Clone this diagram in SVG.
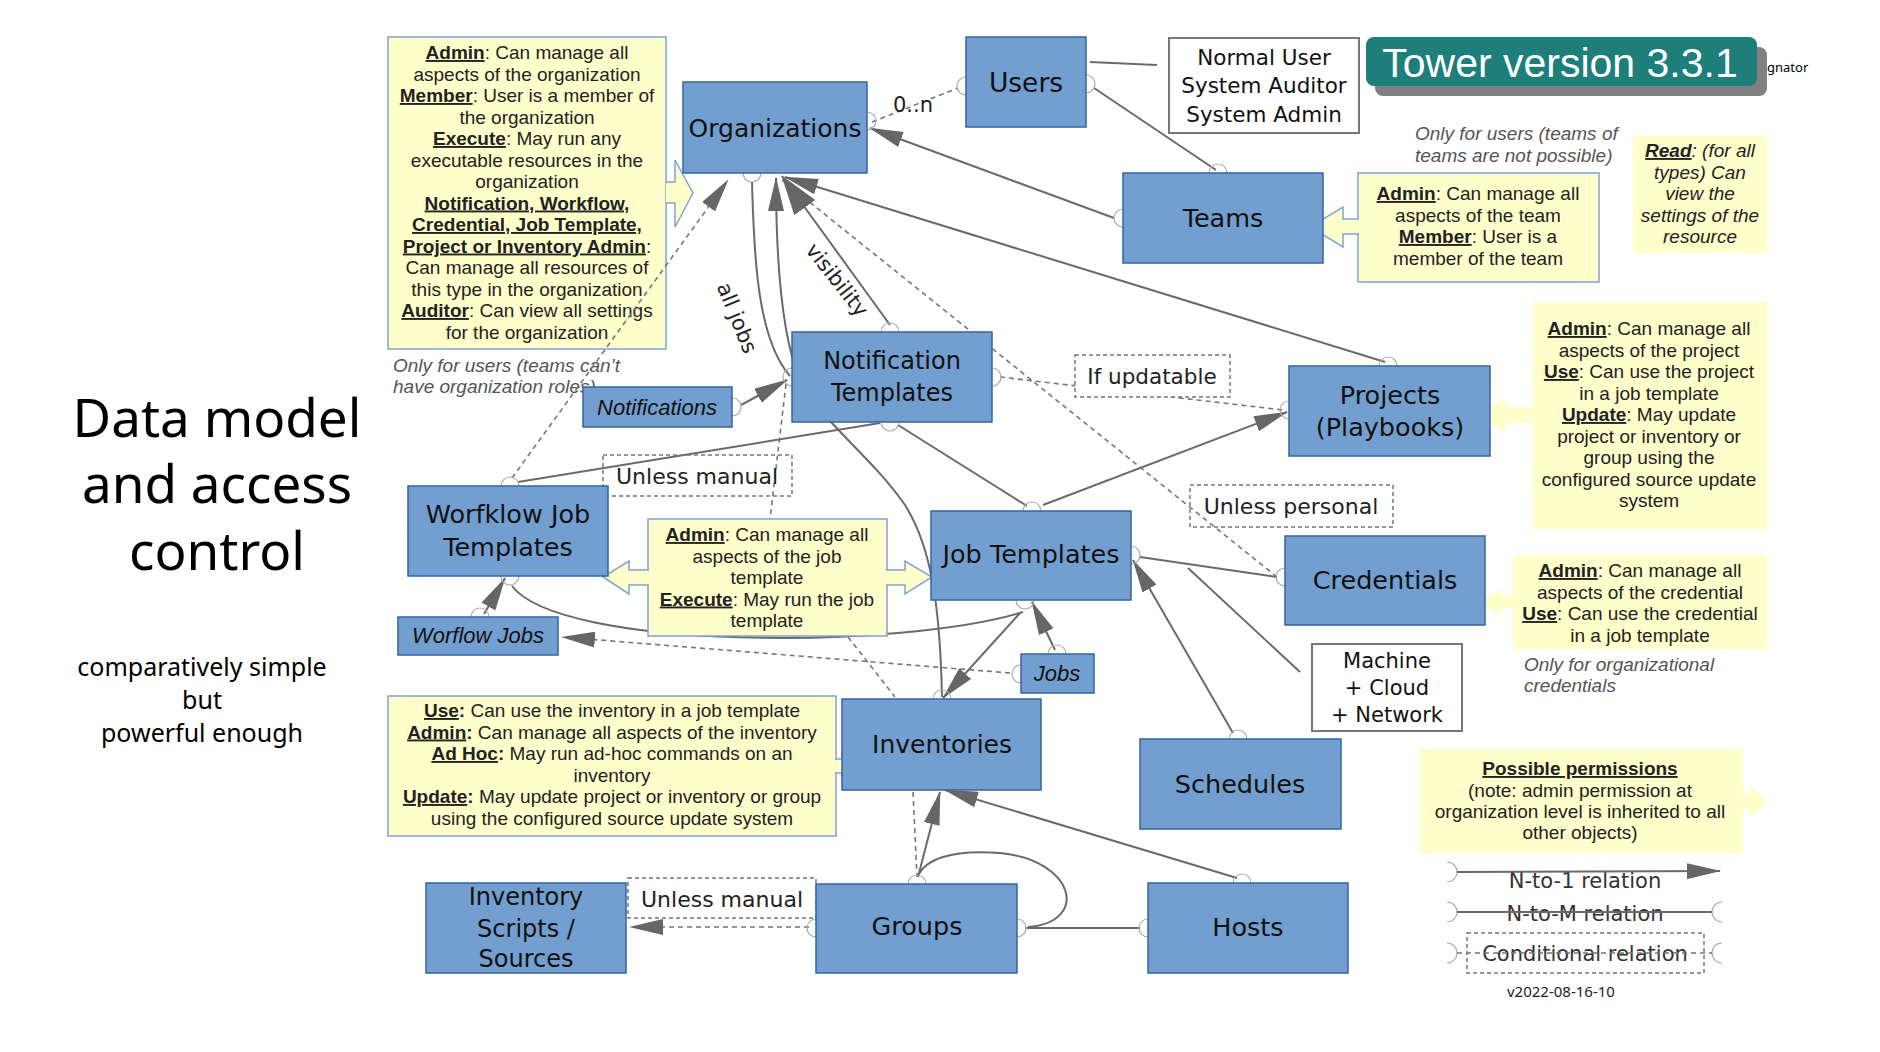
<svg xmlns="http://www.w3.org/2000/svg" width="1880" height="1052" viewBox="0 0 1880 1052">
<defs>
<style>
.nd {fill:#729fcf; stroke:#3465a4; stroke-width:1.5}
.wb {fill:#fff; stroke:#777; stroke-width:2}
.nt {font-family:"DejaVu Sans",Verdana,sans-serif; font-size:25.5px; fill:#111; text-anchor:middle}
.it {font-family:"Liberation Sans",Arial,sans-serif; font-style:italic; font-size:22px; fill:#111; text-anchor:middle}
.note {fill:#ffffcc; stroke:#7fa3d6; stroke-width:1.5}
.note2 {fill:#ffffcc; stroke:none}
.tx {font-family:"Liberation Sans",Arial,sans-serif; font-size:19px; fill:#222; text-anchor:middle}
.b {font-weight:bold; text-decoration:underline}
.bo {font-weight:bold}
.gr {font-family:"Liberation Sans",Arial,sans-serif; font-style:italic; font-size:19px; fill:#555}
.ln {stroke:#6a6a6a; stroke-width:2; fill:none}
.dl {stroke:#777; stroke-width:1.6; fill:none; stroke-dasharray:5 4}
.arc {stroke:#aaa; stroke-width:1.2; fill:none}
.lbl {font-family:"DejaVu Sans",Verdana,sans-serif; font-size:22px; fill:#222; text-anchor:middle}
.lbox {fill:none; stroke:#777; stroke-width:1.5; stroke-dasharray:4 3}
.lboxw {fill:#fff; stroke:#777; stroke-width:1.5; stroke-dasharray:4 3}
.side {font-family:"Noto Sans","DejaVu Sans",sans-serif; fill:#000; text-anchor:middle}
.big {font-size:53px}
.sub {font-size:25px}
</style>
<marker id="ah" markerUnits="userSpaceOnUse" markerWidth="34" markerHeight="16" refX="33" refY="8" orient="auto"><path d="M0,0 L34,8 L0,16 z" fill="#666"/></marker>
<marker id="ahb" markerUnits="userSpaceOnUse" markerWidth="40" markerHeight="26" refX="39" refY="13" orient="auto"><path d="M0,0 L40,13 L0,26 z" fill="#666"/></marker>
</defs>
<rect width="1880" height="1052" fill="#fff"/>

<g id="side-title">
<text class="side big" x="217" y="437">Data model</text>
<text class="side big" x="217" y="503">and access</text>
<text class="side big" x="217" y="570">control</text>
<text class="side sub" x="202" y="675.5">comparatively simple</text>
<text class="side sub" x="202" y="708.5">but</text>
<text class="side sub" x="202" y="741.5">powerful enough</text>
</g>

<g id="banner">
<rect x="1375" y="47" width="392" height="49" rx="8" fill="#808080"/>
<rect x="1366" y="37" width="391" height="49" rx="8" fill="#1e7f7a"/>
<text x="1560" y="77" font-family="'Liberation Sans',Arial,sans-serif" font-size="41" fill="#fff" text-anchor="middle">Tower version 3.3.1</text>
<text x="1767" y="72" font-family="'Noto Sans','DejaVu Sans',sans-serif" font-size="13" fill="#000">gnator</text>
</g>

<g id="note-org">
<rect class="note" x="388" y="37" width="278" height="312"/>
<path d="M666,182 L675,182 L675,160 L693,193 L675,227 L675,203 L666,203" fill="#ffffcc" stroke="#7fa3d6" stroke-width="1.5"/>
<text class="tx" x="527" y="59"><tspan class="b">Admin</tspan>: Can manage all</text>
<text class="tx" x="527" y="80.5">aspects of the organization</text>
<text class="tx" x="527" y="102"><tspan class="b">Member</tspan>: User is a member of</text>
<text class="tx" x="527" y="123.5">the organization</text>
<text class="tx" x="527" y="145"><tspan class="b">Execute</tspan>: May run any</text>
<text class="tx" x="527" y="166.5">executable resources in the</text>
<text class="tx" x="527" y="188">organization</text>
<text class="tx" x="527" y="209.5"><tspan class="b">Notification, Workflow,</tspan></text>
<text class="tx" x="527" y="231"><tspan class="b">Credential, Job Template,</tspan></text>
<text class="tx" x="527" y="252.5"><tspan class="b">Project or Inventory Admin</tspan>:</text>
<text class="tx" x="527" y="274">Can manage all resources of</text>
<text class="tx" x="527" y="295.5">this type in the organization</text>
<text class="tx" x="527" y="317"><tspan class="b">Auditor</tspan>: Can view all settings</text>
<text class="tx" x="527" y="338.5">for the organization</text>
</g>
<g id="note-org-users">
<text class="gr" x="393" y="372">Only for users (teams can’t</text>
<text class="gr" x="393" y="393">have organization roles)</text>
</g>

<g id="note-teams">
<rect class="note" x="1358" y="173" width="241" height="109"/>
<path d="M1359,219 L1343,219 L1343,207 L1310,227 L1343,247 L1343,234 L1359,234" fill="#ffffcc" stroke="#7fa3d6" stroke-width="1.5"/>
<text class="tx" x="1478" y="200"><tspan class="b">Admin</tspan>: Can manage all</text>
<text class="tx" x="1478" y="221.5">aspects of the team</text>
<text class="tx" x="1478" y="243"><tspan class="b">Member</tspan>: User is a</text>
<text class="tx" x="1478" y="264.5">member of the team</text>
</g>
<g id="note-teams-users">
<text class="gr" x="1415" y="140">Only for users (teams of</text>
<text class="gr" x="1415" y="162">teams are not possible)</text>
</g>

<g id="note-read">
<rect class="note2" x="1633" y="136" width="134" height="117"/>
<text class="tx" x="1700" y="157" font-style="italic"><tspan class="b">Read</tspan>: (for all</text>
<text class="tx" x="1700" y="178.5" font-style="italic">types) Can</text>
<text class="tx" x="1700" y="200" font-style="italic">view the</text>
<text class="tx" x="1700" y="221.5" font-style="italic">settings of the</text>
<text class="tx" x="1700" y="243" font-style="italic">resource</text>
</g>

<g id="note-projects">
<rect class="note2" x="1532" y="302" width="235" height="227"/>
<path d="M1533,407 L1505,407 L1505,397 L1480,415 L1505,433 L1505,423 L1533,423 z" fill="#ffffcc"/>
<text class="tx" x="1649" y="335"><tspan class="b">Admin</tspan>: Can manage all</text>
<text class="tx" x="1649" y="356.5">aspects of the project</text>
<text class="tx" x="1649" y="378"><tspan class="b">Use</tspan>: Can use the project</text>
<text class="tx" x="1649" y="399.5">in a job template</text>
<text class="tx" x="1649" y="421"><tspan class="b">Update</tspan>: May update</text>
<text class="tx" x="1649" y="442.5">project or inventory or</text>
<text class="tx" x="1649" y="464">group using the</text>
<text class="tx" x="1649" y="485.5">configured source update</text>
<text class="tx" x="1649" y="507">system</text>
</g>

<g id="note-credentials">
<rect class="note2" x="1513" y="555" width="254" height="94"/>
<path d="M1514,596 L1502,596 L1502,590 L1475,602 L1502,614 L1502,608 L1514,608 z" fill="#ffffcc"/>
<text class="tx" x="1640" y="577"><tspan class="b">Admin</tspan>: Can manage all</text>
<text class="tx" x="1640" y="598.5">aspects of the credential</text>
<text class="tx" x="1640" y="620"><tspan class="b">Use</tspan>: Can use the credential</text>
<text class="tx" x="1640" y="641.5">in a job template</text>
<text class="gr" x="1524" y="671">Only for organizational</text>
<text class="gr" x="1524" y="692">credentials</text>
</g>

<g id="note-permissions">
<rect class="note2" x="1419" y="749" width="324" height="104"/>
<path d="M1742,795 L1750,795 L1750,785 L1767,802 L1750,818 L1750,809 L1742,809 z" fill="#ffffcc"/>
<text class="tx" x="1580" y="775"><tspan class="b">Possible permissions</tspan></text>
<text class="tx" x="1580" y="797">(note: admin permission at</text>
<text class="tx" x="1580" y="818">organization level is inherited to all</text>
<text class="tx" x="1580" y="839">other objects)</text>
</g>

<g id="connectors">
<path class="dl" d="M872,122 L958,88"/>
<path class="dl" d="M1277,577 L782,180"/>
<path class="dl" d="M1000,377 L1283,410"/>
<path class="dl" d="M786,384 L770,519 M848,637 L895,697"/>
<path class="dl" d="M1010,673 L562,637" marker-end="url(#ah)"/>
<path class="dl" d="M913,792 L917,877"/>
<path class="dl" d="M809,927 L630,927" marker-end="url(#ah)"/>
<path class="ln" d="M1090,62 L1157,65"/>
<path class="ln" d="M1094,88 L1216,170"/>
<path class="ln" d="M1114,218 L870,128" marker-end="url(#ah)"/>
<path class="ln" d="M1385,362 L785,177" marker-end="url(#ah)"/>
<path class="ln" d="M890,325 L782,176" marker-end="url(#ahb)"/>
<path class="ln" d="M752,182 C754,260 758,340 790,376"/>
<path class="ln" d="M741,405 L787,380" marker-end="url(#ah)"/>
<path class="ln" d="M880,423 L518,482"/>
<path class="ln" d="M898,425 L1027,506"/>
<path class="ln" d="M1043,505 L1287,412" marker-end="url(#ah)"/>
<path class="ln" d="M512,586 C560,650 900,650 1023,612"/>
<path class="ln" d="M484,614 L505,578" marker-end="url(#ah)"/>
<path class="ln" d="M1055,650 L1032,602" marker-end="url(#ah)"/>
<path class="ln" d="M1020,613 L943,698" marker-end="url(#ah)"/>
<path class="ln" d="M1140,557 L1277,577"/>
<path class="ln" d="M1188,568 L1300,672"/>
<path class="ln" d="M1233,733 L1133,560" marker-end="url(#ah)"/>
<path class="ln" d="M918,877 L940,792" marker-end="url(#ah)"/>
<path class="ln" d="M1028,927 C1090,922 1075,860 1000,853 C950,849 925,860 918,876"/>
<path class="ln" d="M1026,928 L1140,928"/>
<path class="ln" d="M1237,878 L945,790" marker-end="url(#ah)"/>
<path class="ln" d="M942,697 C940,600 930,545 905,505 C870,455 820,420 800,380 C783,340 776,270 776,178" marker-end="url(#ah)"/>
<path class="dl" d="M512,478 L728,180" marker-end="url(#ah)"/>
<path class="arc" d="M867,112 A9,9 0 0 1 867,130 M966,77 A9,9 0 0 0 966,95 M1086,75 A9,9 0 0 1 1086,93 M1209,173 A9,9 0 0 1 1227,173 M1123,209 A9,9 0 0 0 1123,227 M1379,366 A9,9 0 0 1 1397,366 M881,332 A9,9 0 0 1 899,332 M743,173 A9,9 0 0 0 761,173 M792,368 A9,9 0 0 0 792,386 M501,486 A9,9 0 0 1 519,486 M1285,568 A9,9 0 0 0 1285,586 M992,368 A9,9 0 0 1 992,386 M1289,401 A9,9 0 0 0 1289,419 M732,398 A9,9 0 0 1 732,416 M881,422 A9,9 0 0 0 899,422 M1023,511 A9,9 0 0 1 1041,511 M501,576 A9,9 0 0 0 519,576 M1016,600 A9,9 0 0 0 1034,600 M471,617 A9,9 0 0 1 489,617 M1021,665 A9,9 0 0 0 1021,683 M1048,654 A9,9 0 0 1 1066,654 M1131,546 A9,9 0 0 1 1131,564 M1229,739 A9,9 0 0 1 1247,739 M933,699 A9,9 0 0 1 951,699 M908,884 A9,9 0 0 1 926,884 M1017,919 A9,9 0 0 1 1017,937 M1148,919 A9,9 0 0 0 1148,937 M1233,883 A9,9 0 0 1 1251,883 M816,919 A9,9 0 0 0 816,937"/>
<text class="lbl" x="913" y="112" style="font-size:21px">0..n</text>
<text class="lbl" style="font-size:21px" transform="translate(837,280) rotate(52)" y="7">visibility</text>
<text class="lbl" style="font-size:21px" transform="translate(737,318) rotate(68)" y="7">all jobs</text>
<rect class="lboxw" x="1075" y="355" width="155" height="42"/>
<text class="lbl" x="1152" y="384" style="font-size:21.5px">If updatable</text>
<rect class="lbox" x="1190" y="485" width="203" height="42"/>
<text class="lbl" x="1291" y="514">Unless personal</text>
<rect class="lbox" x="603" y="455" width="189" height="41"/>
<text class="lbl" x="697" y="484">Unless manual</text>
<rect class="lboxw" x="628" y="878" width="188" height="40"/>
<text class="lbl" x="722" y="907">Unless manual</text>
</g>

<g id="note-jt">
<rect class="note" x="648" y="519" width="239" height="117"/>
<path d="M649,570 L629,570 L629,561 L603,577 L629,594 L629,585 L649,585" fill="#ffffcc" stroke="#7fa3d6" stroke-width="1.5"/>
<path d="M886,570 L905,570 L905,561 L932,577 L905,594 L905,585 L886,585" fill="#ffffcc" stroke="#7fa3d6" stroke-width="1.5"/>
<text class="tx" x="767" y="541"><tspan class="b">Admin</tspan>: Can manage all</text>
<text class="tx" x="767" y="562.5">aspects of the job</text>
<text class="tx" x="767" y="584">template</text>
<text class="tx" x="767" y="605.5"><tspan class="b">Execute</tspan>: May run the job</text>
<text class="tx" x="767" y="627">template</text>
</g>

<g id="note-inventories">
<rect class="note" x="388" y="696" width="448" height="140"/>
<path d="M835,759 L842,759 L842,753 L857,766 L842,779 L842,773 L835,773" fill="#ffffcc" stroke="#7fa3d6" stroke-width="1.5"/>
<text class="tx" x="612" y="717"><tspan class="b">Use</tspan><tspan class="bo">:</tspan> Can use the inventory in a job template</text>
<text class="tx" x="612" y="738.5"><tspan class="b">Admin</tspan><tspan class="bo">:</tspan> Can manage all aspects of the inventory</text>
<text class="tx" x="612" y="760"><tspan class="b">Ad Hoc</tspan><tspan class="bo">:</tspan> May run ad-hoc commands on an</text>
<text class="tx" x="612" y="781.5">inventory</text>
<text class="tx" x="612" y="803"><tspan class="b">Update</tspan><tspan class="bo">:</tspan> May update project or inventory or group</text>
<text class="tx" x="612" y="824.5">using the configured source update system</text>
</g>

<g id="node-organizations"><rect class="nd" x="683" y="82" width="184" height="91"/><text class="nt" x="775" y="137" style="font-size:25px">Organizations</text></g>
<g id="node-users"><rect class="nd" x="966" y="37" width="120" height="90"/><text class="nt" x="1026" y="92" style="font-size:26.5px">Users</text></g>
<g id="node-roles"><rect class="wb" x="1169" y="38" width="190" height="95"/><text class="nt" x="1264" y="65" style="font-size:21.5px">Normal User</text><text class="nt" x="1264" y="93" style="font-size:21.5px">System Auditor</text><text class="nt" x="1264" y="122" style="font-size:21.5px">System Admin</text></g>
<g id="node-teams"><rect class="nd" x="1123" y="173" width="200" height="90"/><text class="nt" x="1223" y="227">Teams</text></g>
<g id="node-notification-templates"><rect class="nd" x="792" y="332" width="200" height="90"/><text class="nt" x="892" y="369" style="font-size:24px">Notification</text><text class="nt" x="892" y="401" style="font-size:24px">Templates</text></g>
<g id="node-notifications"><rect class="nd" x="583" y="387" width="149" height="40"/><text class="it" x="657" y="415">Notifications</text></g>
<g id="node-projects"><rect class="nd" x="1289" y="366" width="201" height="90"/><text class="nt" x="1390" y="404">Projects</text><text class="nt" x="1390" y="436">(Playbooks)</text></g>
<g id="node-workflow-job-templates"><rect class="nd" x="408" y="486" width="200" height="90"/><text class="nt" x="508" y="523">Worfklow Job</text><text class="nt" x="508" y="556">Templates</text></g>
<g id="node-job-templates"><rect class="nd" x="931" y="511" width="200" height="89"/><text class="nt" x="1031" y="563">Job Templates</text></g>
<g id="node-credentials"><rect class="nd" x="1285" y="536" width="200" height="89"/><text class="nt" x="1385" y="589">Credentials</text></g>
<g id="node-workflow-jobs"><rect class="nd" x="398" y="617" width="160" height="38"/><text class="it" x="478" y="643">Worflow Jobs</text></g>
<g id="node-jobs"><rect class="nd" x="1021" y="654" width="73" height="39"/><text class="it" x="1057" y="681">Jobs</text></g>
<g id="node-credential-types"><rect class="wb" x="1312" y="644" width="150" height="87"/><text class="nt" x="1387" y="668" style="font-size:21px">Machine</text><text class="nt" x="1387" y="695" style="font-size:21px">+ Cloud</text><text class="nt" x="1387" y="722" style="font-size:21px">+ Network</text></g>
<g id="node-inventories"><rect class="nd" x="842" y="699" width="199" height="91"/><text class="nt" x="942" y="753" style="font-size:25px">Inventories</text></g>
<g id="node-schedules"><rect class="nd" x="1140" y="739" width="201" height="90"/><text class="nt" x="1240" y="793">Schedules</text></g>
<g id="node-inventory-scripts"><rect class="nd" x="426" y="883" width="200" height="90"/><text class="nt" x="526" y="905" style="font-size:24px">Inventory</text><text class="nt" x="526" y="937" style="font-size:24px">Scripts /</text><text class="nt" x="526" y="967" style="font-size:24px">Sources</text></g>
<g id="node-groups"><rect class="nd" x="816" y="884" width="201" height="89"/><text class="nt" x="917" y="935">Groups</text></g>
<g id="node-hosts"><rect class="nd" x="1148" y="883" width="200" height="90"/><text class="nt" x="1248" y="936">Hosts</text></g>

<g id="legend">
<path class="arc" d="M1447,862 A10,10 0 0 1 1447,882 M1447,902 A10,10 0 0 1 1447,922 M1722,902 A10,10 0 0 0 1722,922 M1447,943 A10,10 0 0 1 1447,963 M1722,943 A10,10 0 0 0 1722,963"/>
<text class="lbl" x="1585" y="888" style="font-size:21px;fill:#333">N-to-1 relation</text>
<path class="ln" d="M1457,872 L1720,871" marker-end="url(#ah)"/>
<text class="lbl" x="1585" y="921" style="font-size:21px;fill:#333">N-to-M relation</text>
<path class="ln" d="M1457,912 L1712,912"/>
<rect class="lbox" x="1467" y="933" width="237" height="40"/>
<text class="lbl" x="1585" y="961" style="font-size:21px;fill:#333">Conditional relation</text>
<path class="dl" d="M1457,953 L1712,953"/>
<text x="1507" y="997" font-family="'Noto Sans','DejaVu Sans',sans-serif" font-size="15" fill="#222">v2022-08-16-10</text>
</g>
</svg>
